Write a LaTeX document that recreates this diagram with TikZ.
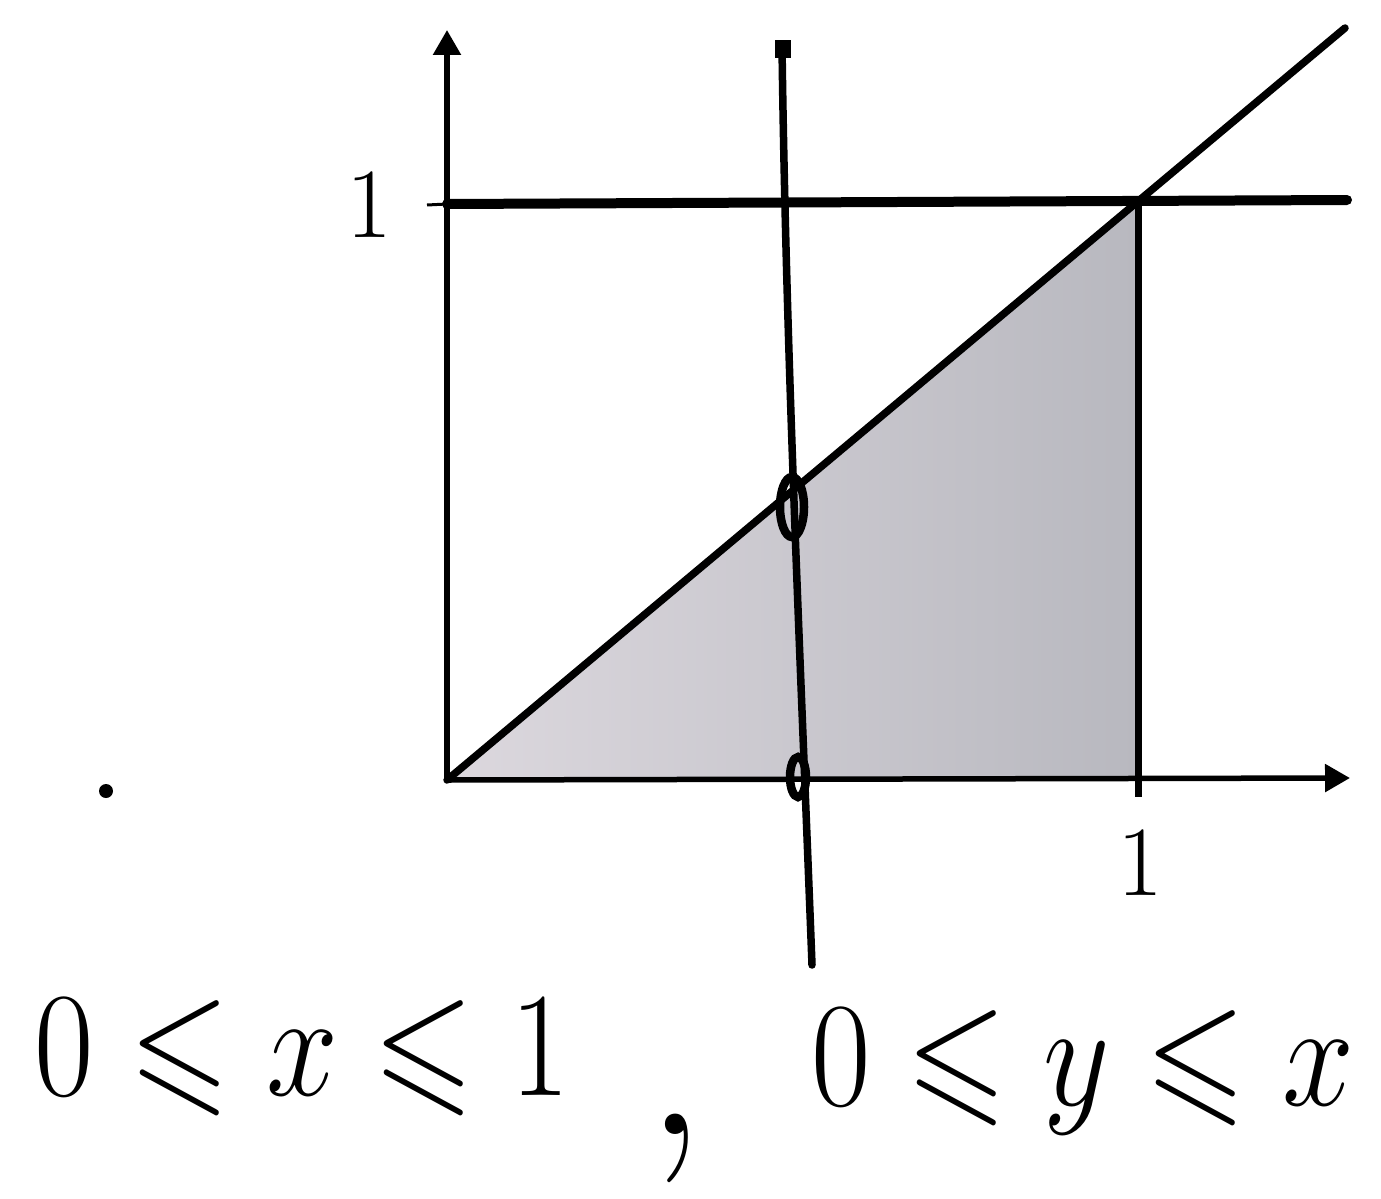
\documentclass[tikz,border=0pt]{standalone}
\usepackage{amssymb}
\usetikzlibrary{arrows.meta}
\definecolor{shL}{RGB}{220,216,222}
\definecolor{shR}{RGB}{184,184,191}
\begin{document}
\begin{tikzpicture}[x=1pt,y=-1pt,
  axisline/.style={line width=5.5pt,-{Triangle[length=25pt,width=27pt]}},
  boldline/.style={line width=10pt},
  penline/.style={line width=7.5pt,line cap=round},
  ring/.style={line width=8.5pt},
  lbl/.style={scale=4,inner sep=0pt,font=\Huge},
  expr/.style={xscale=5.2,yscale=6,inner sep=0pt,anchor=base,font=\Huge}]
\useasboundingbox (0,0) rectangle (1381,1199);
\fill[white] (0,0) rectangle (1381,1199);
% key points
\coordinate (O) at (447,780);
\coordinate (P) at (1138,202);
\coordinate (Q) at (1138,780);
\coordinate (yend) at (447,30);
\coordinate (xend) at (1350,778);
\coordinate (tickL) at (427,205);
\coordinate (hL) at (447,204);
\coordinate (hR) at (1347,200);
\coordinate (dEnd) at (1345,28);
\coordinate (vB) at (1138,797);
\coordinate (cT) at (782,46);
\coordinate (cB) at (812,965);
% shaded region
\shade[left color=shL,right color=shR] (O) -- (P) -- (Q) -- cycle;
% axes
\draw[axisline] (O) -- (yend);
\draw[axisline] (O) -- (xend);
% y = 1 line with tick
\draw[line width=3pt] (tickL) -- (hL);
\draw[boldline,line cap=round] (hL) -- (hR);
% x = 1 line
\draw[line width=7pt] (P) -- (vB);
% diagonal y = x
\draw[penline] (O) -- (dEnd);
% vertical section line
\draw[penline] (cT) .. controls (786,350) and (800,650) .. (cB);
\fill (775,40) rectangle (791,58);
% marks on the section line
\draw[ring] (792,507) ellipse [x radius=12pt,y radius=30pt];
\draw[ring] (798,777) ellipse [x radius=8pt,y radius=20pt];
% stray dot
\fill (106,791) circle[radius=7pt];
% labels
\node[lbl] (oneY) at (369,205) {1};
\node[lbl] (oneX) at (1140,863) {1};
\node[expr] (ineqX) at (302,1095) {$0\leqslant x\leqslant 1$};
\node[scale=10,inner sep=0pt,anchor=base,font=\Huge] (comma) at (676,1134) {,};
\node[expr] (ineqY) at (1083,1105) {$0\leqslant y\leqslant x$};
\end{tikzpicture}
\end{document}
